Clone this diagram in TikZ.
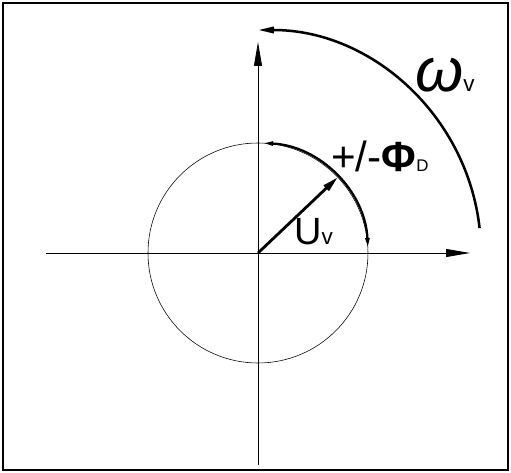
\documentclass[tikz,border=0pt]{standalone}
\usepackage{fontspec}
\setmainfont{Liberation Sans}
\usetikzlibrary{arrows.meta}

\begin{document}
\begin{tikzpicture}[x=0.25mm, y=0.25mm]
\useasboundingbox (-258,-220) rectangle (253,253);
\draw[line width=0.8pt] (-255,-217) rectangle (250,250);
\coordinate (O) at (0,0);
\coordinate (U) at (43.5:110);
% axes
\draw[line width=0.6pt, -{Triangle[length=6mm, width=2mm]}] (-212,0) -- (212,0);
\draw[line width=0.6pt, -{Triangle[length=6mm, width=2mm]}] (0,-212) -- (0,211);
\draw[line width=0.4pt] (O) circle (110);
% voltage vector and phase range
\draw[line width=2pt, -{Triangle[length=4mm, width=1.8mm]}] (O) -- (U);
\draw[line width=1.6pt, {Triangle[length=2.5mm, width=1mm]}-{Triangle[length=2.5mm, width=1mm]}] (2.6:110) arc (2.6:87.4:110);
\draw[line width=1.8pt, -{Triangle[length=4mm, width=1.6mm]}] (6.4:223) arc (6.4:90:223);
% labels
\node[anchor=base west, inner sep=0pt] (phi) at (73,81) {\fontsize{30}{30}\selectfont +/-\textbf{Φ}\fontsize{12}{12}\selectfont D};
\node[anchor=base west, inner sep=0pt] (uv) at (36,8) {\fontsize{27}{27}\selectfont U\fontsize{16}{16}\selectfont v};
\node[anchor=base west, inner sep=0pt] (wv) at (157,161) {\fontsize{44}{44}\selectfont\itshape ω\upshape\fontsize{16}{16}\selectfont v};
\end{tikzpicture}
\end{document}
